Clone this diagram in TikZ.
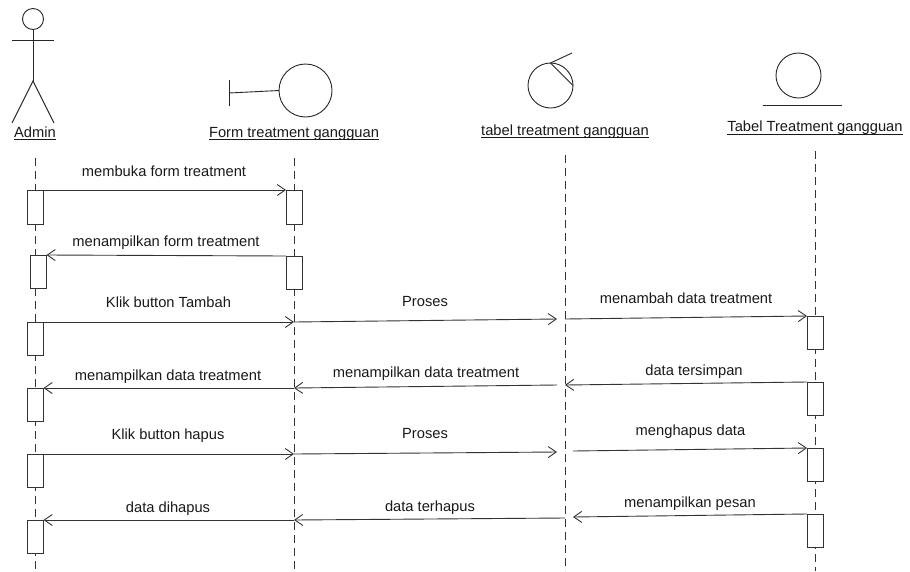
\documentclass[tikz,border=0pt]{standalone}
\usepackage{fontspec}
\setmainfont{Liberation Sans}
\usetikzlibrary{arrows.meta}
\tikzset{
 x=1pt,y=-1pt,
 sym/.style={draw=black!85,line width=0.9pt},
 life/.style={draw=black!80,line width=0.9pt,dash pattern=on 8pt off 5pt},
 actbox/.style={draw=black!80,fill=white,line width=0.9pt,minimum width=16.5pt,inner sep=0pt,outer sep=0pt},
 msg/.style={draw=black!80,line width=0.9pt,-{Straight Barb[length=8pt,width=11pt,line width=0.9pt]}},
 txt/.style={font=\fontsize{14.7}{17}\selectfont,text=black!90,inner sep=0pt,anchor=base},
 sym0/.style={sym,inner sep=0pt,outer sep=0pt,circle}
}
\newcommand{\actbx}[4]{\node[actbox,minimum height=#4pt-#3pt,anchor=north west] (#1) at (#2,#3) {};}
\newcommand{\ulname}[1]{\setbox0=\hbox{#1}\rlap{\copy0}\rule[-2.8pt]{\wd0}{1pt}}
\begin{document}
\begin{tikzpicture}
\useasboundingbox (0,0) rectangle (910,571);
% lifelines
\coordinate (la0) at (35,158); \coordinate (la1) at (35,571);
\coordinate (lb0) at (294,158); \coordinate (lb1) at (294,571);
\coordinate (lc0) at (565,155); \coordinate (lc1) at (565,571);
\coordinate (ld0) at (815,151); \coordinate (ld1) at (815,571);
\draw[life] (la0) -- (la1);
\draw[life] (lb0) -- (lb1);
\draw[life] (lc0) -- (lc1);
\draw[life] (ld0) -- (ld1);
% actor
\node[sym0,minimum size=21pt] (head) at (33,19) {};
\coordinate (hip) at (33,81);
\coordinate (armL) at (12,40); \coordinate (armR) at (54,40);
\coordinate (legL) at (12,123); \coordinate (legR) at (54,123);
\draw[sym] (head.south) -- (hip);
\draw[sym] (armL) -- (armR);
\draw[sym] (legL) -- (hip) -- (legR);
\node[txt] (tAdmin) at (35,137.3) {\ulname{Admin}};
% boundary
\node[sym0,minimum size=53pt] (bnd) at (305.5,90.5) {};
\coordinate (bt) at (229,80); \coordinate (bb) at (229,106); \coordinate (bm) at (229,93);
\draw[sym] (bt) -- (bb);
\draw[sym] (bm) -- (bnd.west);
\node[txt] (tForm) at (294,137.3) {\ulname{Form treatment gangguan}};
% control
\node[sym0,minimum size=45pt] (ctl) at (550.5,85.5) {};
\coordinate (ct) at (572,53);
\draw[sym] (ctl.north) -- (ct);
\draw[sym] (ctl.north) -- (ctl.east);
\node[txt] (tCtl) at (565,135) {\ulname{tabel treatment gangguan}};
% entity
\node[sym0,minimum size=45pt] (ent) at (798.5,75.5) {};
\coordinate (el) at (763,105); \coordinate (er) at (842,105);
\draw[sym] (el) -- (er);
\node[txt] (tEnt) at (815,131.7) {\ulname{Tabel Treatment gangguan}};
% activation boxes
\actbx{a1}{27}{190}{224}
\actbx{a2}{30}{255}{288}
\actbx{a3}{27}{322}{355}
\actbx{a4}{27}{388}{421}
\actbx{a5}{27}{454}{487}
\actbx{a6}{27}{520}{553}
\actbx{b1}{286}{190}{224}
\actbx{b2}{286}{256}{289}
\actbx{d1}{807}{316}{349}
\actbx{d2}{807}{382}{415}
\actbx{d3}{807}{448}{481}
\actbx{d4}{807}{514}{547}
% free connector ends
\coordinate (m3) at (294,322);
\coordinate (m4a) at (294,322); \coordinate (m4b) at (557,319);
\coordinate (m5a) at (565,319);
\coordinate (m6b) at (565,385);
\coordinate (m7a) at (557,385); \coordinate (m7b) at (294,388);
\coordinate (m8a) at (294,388);
\coordinate (m9b) at (294,454);
\coordinate (m10a) at (294,454); \coordinate (m10b) at (557,452);
\coordinate (m11a) at (573,451);
\coordinate (m12b) at (573,517);
\coordinate (m13a) at (565,518); \coordinate (m13b) at (294,520);
\coordinate (m14a) at (294,520);
% messages
\draw[msg] (a1.north east) -- (b1.north west);
\draw[msg] (b2.north west) -- (a2.north east);
\draw[msg] (a3.north east) -- (m3);
\draw[msg] (m4a) -- (m4b);
\draw[msg] (m5a) -- (d1.north west);
\draw[msg] (d2.north west) -- (m6b);
\draw[msg] (m7a) -- (m7b);
\draw[msg] (m8a) -- (a4.north east);
\draw[msg] (a5.north east) -- (m9b);
\draw[msg] (m10a) -- (m10b);
\draw[msg] (m11a) -- (d3.north west);
\draw[msg] (d4.north west) -- (m12b);
\draw[msg] (m13a) -- (m13b);
\draw[msg] (m14a) -- (a6.north east);
% labels
\node[txt] (l1) at (164,176) {membuka form treatment};
\node[txt] (l2) at (166,246) {menampilkan form treatment};
\node[txt] (l3) at (168.5,307) {Klik button Tambah};
\node[txt] (l4) at (425,306) {Proses};
\node[txt] (l5) at (686,303) {menambah data treatment};
\node[txt] (l6) at (168,380) {menampilkan data treatment};
\node[txt] (l7) at (426,377.7) {menampilkan data treatment};
\node[txt] (l8) at (694,375) {data tersimpan};
\node[txt] (l9) at (168,439) {Klik button hapus};
\node[txt] (l10) at (425,438) {Proses};
\node[txt] (l11) at (690.5,435) {menghapus data};
\node[txt] (l12) at (168,512) {data dihapus};
\node[txt] (l13) at (430,511) {data terhapus};
\node[txt] (l14) at (690,507) {menampilkan pesan};
\end{tikzpicture}
\end{document}
